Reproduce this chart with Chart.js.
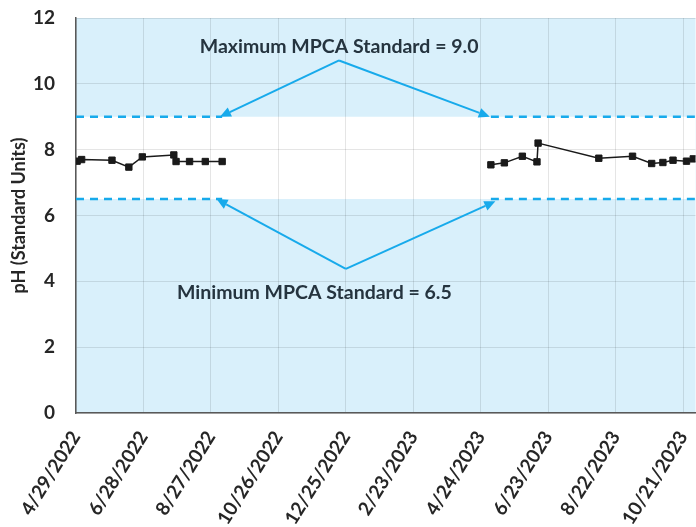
<!DOCTYPE html>
<html>
<head>
<meta charset="utf-8">
<script src="https://cdn.jsdelivr.net/npm/chart.js@4/dist/chart.umd.min.js"></script>
<style>
  html, body { margin: 0; padding: 0; background: #fff; overflow: hidden; }
  #wrap { width: 701px; height: 527px; }
</style>
</head>
<body>
<div id="wrap"><canvas id="phChart"></canvas></div>
<script>
// pH samples, two monitoring seasons
var dates2022 = ["4/30/2022", "5/4/2022", "5/31/2022", "6/15/2022", "6/27/2022", "7/25/2022", "7/27/2022", "8/8/2022", "8/22/2022", "9/6/2022"];
var ph2022 = [7.65, 7.7, 7.68, 7.47, 7.78, 7.84, 7.64, 7.64, 7.64, 7.64];

var dates2023 = ["5/3/2023", "5/15/2023", "5/31/2023", "6/13/2023", "6/14/2023", "8/7/2023", "9/6/2023", "9/23/2023", "10/3/2023", "10/12/2023", "10/24/2023", "10/30/2023"];
var ph2023 = [7.54, 7.6, 7.8, 7.63, 8.2, 7.74, 7.8, 7.58, 7.61, 7.68, 7.65, 7.72];

var xTickLabels = ["4/29/2022", "6/28/2022", "8/27/2022", "10/26/2022", "12/25/2022", "2/23/2023", "4/24/2023", "6/23/2023", "8/22/2023", "10/21/2023"];
var yTicks = [0, 2, 4, 6, 8, 10, 12];

var standardMax = 9.0;
var standardMin = 6.5;
var standardPeriods = [["4/29/2022", "9/6/2022"], ["5/3/2023", "11/1/2023"]];

var startDate = "4/29/2022";
var endDate = "11/1/2023";

// callouts: label anchor and the arrow tips (date, pH)
var callouts = [
  { text: "Maximum MPCA Standard = 9.0", at: ["12/19/2022", 11.12], apex: ["12/19/2022", 10.71], tips: [["9/4/2022", 9.0], ["5/2/2023", 9.0]] },
  { text: "Minimum MPCA Standard = 6.5", at: ["11/27/2022", 3.66], apex: ["12/25/2022", 4.38], tips: [["9/1/2022", 6.5], ["5/7/2023", 6.43]] }
];

function toDay(s) {
  var p = s.split("/");
  var t = Date.UTC(+p[2], +p[0] - 1, +p[1]);
  var p0 = startDate.split("/");
  var t0 = Date.UTC(+p0[2], +p0[0] - 1, +p0[1]);
  return Math.round((t - t0) / 86400000);
}

function points(dates, values) {
  return dates.map(function (d, i) {
    return { x: toDay(d), y: values[i] };
  });
}

function standardLine(value) {
  var pts = [];
  standardPeriods.forEach(function (p, i) {
    if (i > 0) pts.push({ x: (toDay(standardPeriods[i - 1][1]) + toDay(p[0])) / 2, y: null });
    pts.push({ x: toDay(p[0]), y: value });
    pts.push({ x: toDay(p[1]), y: value });
  });
  return pts;
}

var tickDays = xTickLabels.map(toDay);
var blue = "#17aaeb";

var bandPlugin = {
  id: "bands",
  beforeDraw: function (chart) {
    var ctx = chart.ctx, a = chart.chartArea, y = chart.scales.y;
    ctx.save();
    ctx.fillStyle = "#d9f0fb";
    ctx.fillRect(a.left, a.top, a.right - a.left, a.bottom - a.top);
    var top = y.getPixelForValue(standardMax);
    var bot = y.getPixelForValue(standardMin);
    ctx.fillStyle = "#ffffff";
    ctx.fillRect(a.left, top, a.right - a.left, bot - top);
    ctx.restore();
  }
};

function arrow(ctx, x1, y1, x2, y2) {
  var ang = Math.atan2(y2 - y1, x2 - x1);
  var len = 11, half = 5;
  var bx = x2 - len * Math.cos(ang), by = y2 - len * Math.sin(ang);
  ctx.beginPath();
  ctx.moveTo(x1, y1);
  ctx.lineTo(bx, by);
  ctx.stroke();
  ctx.beginPath();
  ctx.moveTo(x2, y2);
  ctx.lineTo(bx + half * Math.sin(ang), by - half * Math.cos(ang));
  ctx.lineTo(bx - half * Math.sin(ang), by + half * Math.cos(ang));
  ctx.closePath();
  ctx.fill();
}

var calloutPlugin = {
  id: "callouts",
  afterDatasetsDraw: function (chart) {
    var ctx = chart.ctx, xs = chart.scales.x, ys = chart.scales.y;
    ctx.save();
    callouts.forEach(function (c) {
      var ax = xs.getPixelForValue(toDay(c.apex[0])), ay = ys.getPixelForValue(c.apex[1]);
      ctx.strokeStyle = blue;
      ctx.fillStyle = blue;
      ctx.lineWidth = 2;
      c.tips.forEach(function (t) {
        arrow(ctx, ax, ay, xs.getPixelForValue(toDay(t[0])), ys.getPixelForValue(t[1]));
      });
      ctx.fillStyle = "#25343f";
      ctx.font = "bold 19.5px Lato";
      ctx.textAlign = "center";
      ctx.textBaseline = "middle";
      ctx.fillText(c.text, xs.getPixelForValue(toDay(c.at[0])), ys.getPixelForValue(c.at[1]));
    });
    ctx.restore();
  }
};

new Chart(document.getElementById("phChart"), {
  type: "line",
  data: {
    datasets: [
      {
        data: points(dates2022, ph2022),
        borderColor: "#1a1a1a",
        backgroundColor: "#1a1a1a",
        borderWidth: 1.5,
        pointStyle: "rect",
        pointRadius: 4.5,
        pointBorderWidth: 1,
      },
      {
        data: points(dates2023, ph2023),
        borderColor: "#1a1a1a",
        backgroundColor: "#1a1a1a",
        borderWidth: 1.5,
        pointStyle: "rect",
        pointRadius: 4.5,
        pointBorderWidth: 1,
      },
      {
        data: standardLine(standardMax),
        borderColor: blue,
        borderWidth: 2.5,
        borderDash: [8, 6],
        pointRadius: 0,
        spanGaps: false,
      },
      {
        data: standardLine(standardMin),
        borderColor: blue,
        borderWidth: 2.5,
        borderDash: [8, 6],
        pointRadius: 0,
        spanGaps: false,
      },
    ],
  },
  options: {
    responsive: true,
    maintainAspectRatio: false,
    animation: false,
    layout: { padding: 0 },
    plugins: {
      legend: { display: false },
      tooltip: { enabled: false },
    },
    scales: {
      x: {
        type: "linear",
        min: toDay(startDate),
        max: toDay(endDate),
        afterBuildTicks: function (scale) {
          scale.ticks = tickDays.map(function (v) { return { value: v }; });
        },
        afterFit: function (scale) {
          scale.paddingLeft = 0;
          scale.paddingRight = 0;
          scale.height = 114;
        },
        ticks: {
          minRotation: 58,
          maxRotation: 58,
          autoSkip: false,
          padding: 14,
          color: "#262626",
          font: { family: "Lato", weight: "bold", size: 19 },
          callback: function (v) {
            var i = tickDays.indexOf(v);
            return i >= 0 ? xTickLabels[i] : "";
          },
        },
        grid: { color: "rgba(0,0,0,0.1)", drawTicks: false },
        border: { color: "#595959", width: 1.5 },
      },
      y: {
        min: 0,
        max: 12,
        afterBuildTicks: function (scale) {
          scale.ticks = yTicks.map(function (v) { return { value: v }; });
        },
        afterFit: function (scale) {
          scale.width = 76;
          scale.paddingTop = 18;
          scale.paddingBottom = 0;
        },
        ticks: {
          padding: 21,
          color: "#262626",
          font: { family: "Lato", weight: "bold", size: 19 },
        },
        grid: { color: "rgba(0,0,0,0.1)", drawTicks: false },
        border: { color: "#595959", width: 1.5 },
        title: {
          display: true,
          text: "pH (Standard Units)",
          color: "#262626",
          font: { family: "Lato", weight: "bold", size: 18 },
          padding: { top: 8, bottom: 0 },
        },
      },
    },
  },
  plugins: [bandPlugin, calloutPlugin],
});
</script>
</body>
</html>
